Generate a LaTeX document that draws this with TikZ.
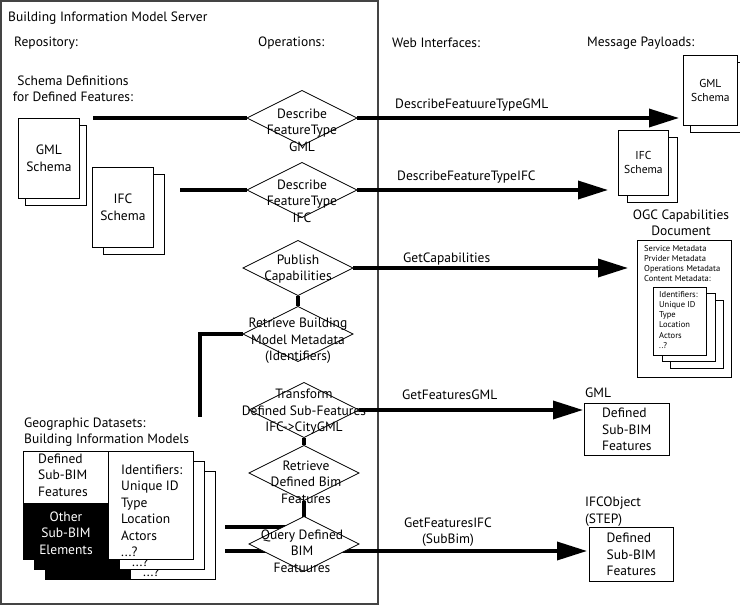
\documentclass[tikz,border=0pt]{standalone}
\usepackage{fontspec}
\setmainfont{PT Sans}
\usetikzlibrary{arrows.meta,positioning,calc,shapes.geometric,backgrounds}
\definecolor{ink}{HTML}{000000}
\definecolor{boxgray}{HTML}{444444}
\newcommand{\hdsz}{\fontsize{13.5}{16.5}\selectfont}
\newcommand{\docsz}{\fontsize{11.5}{14}\selectfont}
\newcommand{\tinysz}{\fontsize{8.5}{10.2}\selectfont}
\tikzset{op/.style={diamond,draw=ink,fill=white,line width=.8pt,minimum width=110pt,minimum height=55pt,inner sep=0pt,outer sep=0pt},
  optext/.style={align=center,font=\hdsz,inner sep=0pt},
  head/.style={font=\hdsz,inner sep=0pt},
  page/.style={draw=ink,fill=white,line width=.8pt},
  wire/.style={line width=3.5pt,draw=ink},
  flow/.style={wire,-{Triangle[length=30pt,width=18pt]}}}

\begin{document}
\begin{tikzpicture}[x=1pt,y=-1pt]
\useasboundingbox (0,0) rectangle (740,607);
\begin{pgfonlayer}{background}
\draw[boxgray,line width=1.2pt] (1,1) rectangle (378,604);
\end{pgfonlayer}
% column heads
\node[head,anchor=west] (title) at (8,18) {Building Information Model Server};
\node[head,anchor=west] (repo) at (14,43) {Repository:};
\node[head,anchor=west] (ops) at (258,43) {Operations:};
\node[head,anchor=west] (web) at (392,43) {Web Interfaces:};
\node[head,anchor=west] (msg) at (587,43) {Message Payloads:};
\node[head,align=center] (schemadef) at (73,89) {Schema Definitions\\for Defined Features:};
% schema documents in the repository
\foreach \x/\y/\dx/\n/\t in {18/118/7/gmldoc/GML,92/167/11/ifcdoc/IFC}{
 \draw[page] (\x+\dx,\y+7) rectangle ++(61,80);
 \node[page,anchor=north west,minimum width=61pt,minimum height=80pt,align=center,font=\hdsz,inner sep=0pt] (\n) at (\x,\y) {\t\\Schema};
}
% payload schema documents
\foreach \x/\y/\w/\h/\dx/\n/\t in {683/55/54/70/7/gmlpay/GML,618/130/50/65/9/ifcpay/IFC}{
 \draw[page] (\x+\dx,\y+7) rectangle ++(\w,\h);
 \node[page,anchor=north west,minimum width=\w pt,minimum height=\h pt,align=center,font=\docsz,inner sep=0pt] (\n) at (\x,\y) {\t\\Schema};
}
% capabilities document
\node[head,align=center] (ogct) at (681,223) {OGC Capabilities\\Document};
\node[page,anchor=north west,minimum width=94pt,minimum height=137pt] (ogc) at (637,240) {};
\node[anchor=north west,align=left,font=\tinysz,inner sep=0pt] (ogcmeta) at (644,245) {Service Metadata\\Prvider Metadata\\Operations Metadata\\Content Metadata:};
\foreach \dx/\dy in {17/13,9/6}{
 \node[page,anchor=north west,minimum width=53pt,minimum height=68pt] (idp\dx) at (653+\dx,287+\dy) {};
 \node[anchor=west,font=\tinysz,inner sep=0pt] (idq\dx) at (659+\dx,346+\dy) {..?};
}
\node[page,anchor=north west,minimum width=53pt,minimum height=68pt] (idp) at (653,287) {};
\node[anchor=north west,align=left,font=\tinysz,inner sep=0pt] (idt) at (659,291) {Identifiers:\\Unique ID\\Type\\Location\\Actors\\..?};
% geographic datasets
\node[head,anchor=west,align=left] (geo) at (24,432) {Geographic Datasets:\\Building Information Models};
\foreach \dx/\dy in {22/20,11/10}{
 \draw[page,fill=ink] (23+\dx,503+\dy) rectangle (108+\dx,559+\dy);
 \draw[page] (23+\dx,451+\dy) rectangle (108+\dx,503+\dy);
 \draw[page] (108+\dx,451+\dy) rectangle (193+\dx,559+\dy);
 \node[anchor=west,font=\hdsz,inner sep=0pt] (more\dx) at (121+\dx,552+\dy) {...?};
}
\draw[page,fill=ink] (23,503) rectangle (108,559);
\draw[page] (23,451) rectangle (108,503);
\draw[page] (108,451) rectangle (193,559);
\node[anchor=west,align=left,font=\hdsz,inner sep=0pt] (ids) at (121,511) {Identifiers:\\Unique ID\\Type\\Location\\Actors\\...?};
\node[anchor=west,align=left,font=\hdsz,inner sep=0pt] (defd) at (38,475) {Defined\\Sub-BIM\\Features};
\node[align=center,font=\hdsz,text=white,inner sep=0pt] (other) at (66,533) {Other\\Sub-BIM\\Elements};
% operations
\node[op] (d1) at (302,118) {};
\node[optext] (d1t) at (302,130) {Describe\\FeatureType\\GML};
\node[op] (d2) at (302,190) {};
\node[optext] (d2t) at (302,201) {Describe\\FeatureType\\IFC};
\node[op] (d3) at (298,268) {};
\node[optext] (d3t) at (298,269) {Publish\\Capabilities};
\node[op] (d4) at (298,334) {};
\node[optext] (d4t) at (298,341) {Retrieve Building\\Model Metadata\\(Identifiers)};
\node[op] (d5) at (304,410) {};
\node[optext] (d5t) at (304,412) {Transform\\Defined Sub-Features\\IFC->CityGML};
\node[op] (d6) at (304,473) {};
\node[optext] (d6t) at (306,482) {Retrieve\\Defined Bim\\Features};
\node[op] (d7) at (304,544) {};
\node[optext] (d7t) at (302,551) {Query Defined\\BIM\\Featuures};
% result payloads
\node[head,anchor=west] (gmllbl) at (585,393) {GML};
\node[page,anchor=north west,minimum width=85pt,minimum height=52pt,align=left,font=\hdsz,inner sep=0pt] (gmlbox) at (584,403) {Defined\\Sub-BIM\\Features};
\node[head,anchor=west,align=left] (ifclbl) at (585,511.5) {IFCObject\\(STEP)};
\node[page,anchor=north west,minimum width=84pt,minimum height=54pt,align=left,font=\hdsz,inner sep=0pt] (ifcbox) at (589,527) {Defined\\Sub-BIM\\Features};
% interface labels
\node[head,anchor=west] (l1) at (395,105) {DescribeFeatuureTypeGML};
\node[head,anchor=west] (l2) at (397,177) {DescribeFeatureTypeIFC};
\node[head,anchor=west] (l3) at (403,259) {GetCapabilities};
\node[head,anchor=west] (l5) at (402,395) {GetFeaturesGML};
\node[head,align=center] (l7) at (448,532) {GetFeaturesIFC\\(SubBim)};
% connectors
\begin{pgfonlayer}{background}
\coordinate (gmlsrc) at (93,118);
\coordinate (ifcsrc) at (180,190);
\coordinate (bimlink) at (200,417);
\coordinate (qtop) at (225,527);
\coordinate (qlow) at (225,551);
\draw[wire] (gmlsrc) -- (d1);
\draw[flow,shorten >=4pt] (d1) -- (d1 -| gmlpay.west);
\draw[wire] (ifcsrc) -- (d2);
\draw[flow,shorten >=10pt] (d2) -- (d2 -| ifcpay.west);
\draw[flow,shorten >=9pt] (d3) -- (d3 -| ogc.west);
\draw[wire] (d3) -- (d4);
\draw[wire] (d4) -| (bimlink);
\draw[flow,shorten >=1pt] (d5) -- (d5 -| gmlbox.west);
\draw[wire] (d5) -- (d6);
\draw[wire] (d6) -- (d7);
\draw[wire] (qtop) -- (qtop -| d7);
\draw[flow,shorten >=2pt] (qlow) -- (qlow -| ifcbox.west);
\end{pgfonlayer}
\end{tikzpicture}
\end{document}
